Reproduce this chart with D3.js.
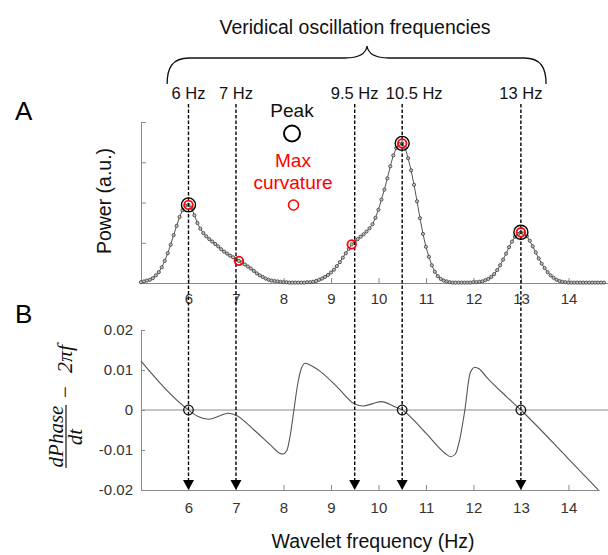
<!DOCTYPE html>
<html>
<head>
<meta charset="utf-8">
<script src="https://cdn.jsdelivr.net/npm/d3@7"></script>
<style>
  body { margin: 0; background: #fff; }
  svg text { font-family: "Liberation Sans", Arial, Helvetica, sans-serif; }
  .axis path, .axis line { stroke: #8a8a8a; }
  .axis text { fill: #333; font-size: 15px; }
</style>
</head>
<body>
<div class="chart"></div>
<script>
// panel A: power spectrum, sampled every 1/16 Hz from 5 Hz
const powerStart = 5;
const powerStep = 1 / 16;
const powerValues = [
  0.02, 0.04, 0.06, 0.08, 0.12, 0.19, 0.27, 0.39, 0.55, 0.74, 0.95, 1.19, 1.42, 1.64, 1.81, 1.92,
  1.94, 1.87, 1.68, 1.49, 1.35, 1.24, 1.16, 1.09, 1.03, 0.97, 0.91, 0.84, 0.78, 0.73, 0.68, 0.64,
  0.59, 0.55, 0.51, 0.46, 0.41, 0.36, 0.30, 0.24, 0.19, 0.15, 0.11, 0.08, 0.06, 0.05, 0.04, 0.03,
  0.02, 0.02, 0.01, 0.01, 0.01, 0.01, 0.01, 0.01, 0.02, 0.02, 0.03, 0.05, 0.08, 0.11, 0.15, 0.20,
  0.26, 0.33, 0.42, 0.52, 0.63, 0.74, 0.85, 0.96, 1.03, 1.09, 1.15, 1.21, 1.28, 1.36, 1.46, 1.62,
  1.82, 2.07, 2.32, 2.60, 2.90, 3.17, 3.35, 3.45, 3.47, 3.36, 3.10, 2.80, 2.44, 2.03, 1.61, 1.22,
  0.90, 0.65, 0.44, 0.28, 0.17, 0.10, 0.06, 0.04, 0.02, 0.01, 0.01, 0.01, 0.01, 0.01, 0.01, 0.01,
  0.02, 0.02, 0.03, 0.04, 0.07, 0.10, 0.15, 0.22, 0.32, 0.44, 0.58, 0.73, 0.89, 1.03, 1.15, 1.22,
  1.26, 1.23, 1.16, 1.05, 0.91, 0.76, 0.61, 0.48, 0.37, 0.27, 0.19, 0.13, 0.08, 0.05, 0.03, 0.02,
  0.01, 0.01, 0.01, 0.01, 0.01, 0.01, 0.01, 0.01, 0.01, 0.01, 0.01, 0.01, 0.01
];
const peakFreqs = [6, 10.5, 13];
const curvatureFreqs = [6, 7.0625, 9.4375, 10.5, 13];

// panel B: dPhase/dt - 2*pi*f
const phaseFreqs = [5.0, 6.0, 6.2, 6.43, 6.65, 6.83, 7.0, 7.38, 7.73, 7.92, 7.99, 8.07, 8.15, 8.22, 8.3,
  8.38, 8.46, 8.55, 8.78, 9.13, 9.5, 9.68, 9.88, 10.07, 10.31, 10.5, 11.0, 11.4, 11.52, 11.62, 11.7,
  11.82, 11.93, 12.03, 12.12, 12.27, 12.7, 13.0, 14.0, 14.63];
const phaseValues = [0.0122, 0.0, -0.0016, -0.0023, -0.0015, -0.0008, -0.0013, -0.005, -0.0088, -0.0108,
  -0.011, -0.0102, -0.0058, 0.0, 0.0065, 0.0105, 0.0117, 0.0113, 0.0096, 0.0058, 0.0015, 0.001, 0.0016,
  0.0021, 0.001, 0.0, -0.0058, -0.0108, -0.0117, -0.011, -0.008, 0.0, 0.0092, 0.0107, 0.0103, 0.0083,
  0.0033, 0.0, -0.0122, -0.02];
const zeroCrossFreqs = [6, 10.5, 13];

// veridical frequencies + labels
const veridicalFreqs = [6, 7, 9.5, 10.5, 13];
const veridicalLabels = ['6 Hz', '7 Hz', '9.5 Hz', '10.5 Hz', '13 Hz'];

const xTicks = [6, 7, 8, 9, 10, 11, 12, 13, 14];
const powerTicks = [0, 1, 2, 3, 4];
const phaseTicks = [0.02, 0.01, 0, -0.01, -0.02];
const phaseTickLabels = ['0.02', '0.01', '0', '-0.01', '-0.02'];

const powerData = powerValues.map((v, i) => ({ f: powerStart + i * powerStep, v: v }));
const phaseData = phaseFreqs.map((f, i) => ({ f: f, v: phaseValues[i] }));
const powerAt = f => powerData.find(d => Math.abs(d.f - f) < 1e-6).v;

const svg = d3.select(".chart")
  .append("svg")
    .attr("width", 608)
    .attr("height", 555);

//SCALES
const xScale = d3.scaleLinear().domain([5, 14.75]).range([141, 604]);
const xScaleA = d3.scaleLinear().domain([5, 14.83]).range([141, 608]);
const xScaleB = d3.scaleLinear().domain([5, 14.65]).range([141, 599.3]);
const yPower = d3.scaleLinear().domain([0, 4]).range([283, 122]);
const yPhase = d3.scaleLinear().domain([-0.02, 0.02]).range([490, 330]);

// title + brace
svg.append('text')
  .attr('x', 355)
  .attr('y', 34)
  .attr('text-anchor', 'middle')
  .style('font-size', '19.5px')
  .style('fill', '#111')
  .text('Veridical oscillation frequencies');

const bl = xScale(5.55), br = xScale(13.53), bt = xScale(9.76);
svg.append('path')
  .attr('d', `M${bl},84 C${bl},68 ${bl + 5},58 ${bl + 22},58 L${bt - 22},58 C${bt - 8},58 ${bt - 1},53 ${bt},46 ` +
             `C${bt + 1},53 ${bt + 8},58 ${bt + 22},58 L${br - 22},58 C${br - 5},58 ${br},68 ${br},84`)
  .style('fill', 'none')
  .style('stroke', '#111')
  .style('stroke-width', 1.3);

// 10.5 Hz label is nudged right so it clears 9.5 Hz
svg.selectAll('.freq-label')
  .data(veridicalFreqs)
  .enter().append('text')
    .attr('class', 'freq-label')
    .attr('x', d => xScale(d) + (d === 10.5 ? 12 : 0))
    .attr('y', 99)
    .attr('text-anchor', 'middle')
    .style('font-size', '16.5px')
    .style('fill', '#111')
    .text((d, i) => veridicalLabels[i]);

// panel letters
svg.append('text').attr('x', 15).attr('y', 120).style('font-size', '26px').text('A');
svg.append('text').attr('x', 15).attr('y', 323).style('font-size', '26px').text('B');

//PANEL A axes
svg.append('g')
  .attr('class', 'axis')
  .attr('transform', 'translate(0,283)')
  .call(d3.axisBottom(xScaleA).tickValues(xTicks).tickSizeInner(-5).tickSizeOuter(0).tickPadding(10.5));
svg.append('g')
  .attr('class', 'axis')
  .attr('transform', 'translate(141,0)')
  .call(d3.axisLeft(yPower).tickValues(powerTicks).tickSizeInner(-5).tickSizeOuter(0).tickFormat(''));

svg.append('text')
  .attr('transform', 'translate(111,201) rotate(-90)')
  .attr('text-anchor', 'middle')
  .style('font-size', '19.5px')
  .style('fill', '#111')
  .text('Power (a.u.)');

// power line + markers
const powerLine = d3.line()
  .x(d => xScale(d.f))
  .y(d => yPower(d.v));
svg.append('path')
  .attr('d', powerLine(powerData))
  .style('fill', 'none')
  .style('stroke', '#555')
  .style('stroke-width', 1);
svg.selectAll('.power-dot')
  .data(powerData)
  .enter().append('circle')
    .attr('class', 'power-dot')
    .attr('cx', d => xScale(d.f))
    .attr('cy', d => yPower(d.v))
    .attr('r', 1.6)
    .style('fill', '#c0c0c0')
    .style('stroke', '#3a3a3a')
    .style('stroke-width', 0.8);

//PANEL B axes
svg.append('line')
  .attr('x1', 141).attr('x2', 608)
  .attr('y1', yPhase(0)).attr('y2', yPhase(0))
  .style('stroke', '#8a8a8a')
  .style('stroke-width', 1);

svg.append('g')
  .attr('class', 'axis')
  .attr('transform', 'translate(0,490)')
  .call(d3.axisBottom(xScaleB).tickValues(xTicks).tickSizeInner(-5).tickSizeOuter(0).tickPadding(12.5));
svg.append('g')
  .attr('class', 'axis')
  .attr('transform', 'translate(141,0)')
  .call(d3.axisLeft(yPhase).tickValues(phaseTicks).tickSizeInner(-4).tickSizeOuter(0).tickPadding(8)
    .tickFormat((d, i) => phaseTickLabels[i]));

const phaseLine = d3.line()
  .curve(d3.curveMonotoneX)
  .x(d => xScale(d.f))
  .y(d => yPhase(d.v));
svg.append('path')
  .attr('d', phaseLine(phaseData))
  .style('fill', 'none')
  .style('stroke', '#555')
  .style('stroke-width', 1.1);

// y label for B: dPhase/dt - 2πf
const mathLabel = svg.append('g')
  .attr('transform', 'translate(66,402) rotate(-90)')
  .style('font-style', 'italic')
  .style('fill', '#111');
mathLabel.append('text')
  .attr('x', -34.5).attr('y', -3.5)
  .attr('text-anchor', 'middle')
  .style('font-family', '"Liberation Serif", serif')
  .style('font-size', '21px')
  .text('dPhase');
mathLabel.append('line')
  .attr('x1', -66).attr('x2', -3)
  .attr('y1', 0).attr('y2', 0)
  .style('stroke', '#111')
  .style('stroke-width', 1.2);
mathLabel.append('text')
  .attr('x', -35).attr('y', 16)
  .attr('text-anchor', 'middle')
  .style('font-family', '"Liberation Serif", serif')
  .style('font-size', '21px')
  .text('dt');
mathLabel.append('text')
  .attr('x', 10).attr('y', 6)
  .attr('text-anchor', 'middle')
  .style('font-family', '"Liberation Serif", serif')
  .style('font-style', 'normal')
  .style('font-size', '21px')
  .text('−');
mathLabel.append('text')
  .attr('x', 43).attr('y', 6)
  .attr('text-anchor', 'middle')
  .style('font-family', '"Liberation Serif", serif')
  .style('font-size', '22px')
  .text('2πf');

svg.append('text')
  .attr('x', 373)
  .attr('y', 548)
  .attr('text-anchor', 'middle')
  .style('font-size', '19.5px')
  .style('fill', '#111')
  .text('Wavelet frequency (Hz)');

// dashed verticals with arrowheads
svg.selectAll('.veridical-line')
  .data(veridicalFreqs)
  .enter().append('line')
    .attr('class', 'veridical-line')
    .attr('x1', d => xScale(d)).attr('x2', d => xScale(d))
    .attr('y1', 104).attr('y2', yPhase(-0.02) - 9)
    .style('stroke', '#000')
    .style('stroke-width', 1.4)
    .style('stroke-dasharray', '3.5,2');
svg.selectAll('.arrow-head')
  .data(veridicalFreqs)
  .enter().append('path')
    .attr('class', 'arrow-head')
    .attr('d', d => {
      const x = xScale(d), y = yPhase(-0.02);
      return `M${x - 5.5},${y - 10} L${x + 5.5},${y - 10} L${x},${y} Z`;
    })
    .style('fill', '#000');

// zero crossing markers (B)
svg.selectAll('.zero-dot')
  .data(zeroCrossFreqs)
  .enter().append('circle')
    .attr('class', 'zero-dot')
    .attr('cx', d => xScale(d))
    .attr('cy', yPhase(0))
    .attr('r', 4.8)
    .style('fill', 'none')
    .style('stroke', '#111')
    .style('stroke-width', 1.3);

// peak + max curvature markers (A)
svg.selectAll('.peak-dot')
  .data(peakFreqs)
  .enter().append('circle')
    .attr('class', 'peak-dot')
    .attr('cx', d => xScale(d))
    .attr('cy', d => yPower(powerAt(d)))
    .attr('r', 7)
    .style('fill', 'none')
    .style('stroke', '#000')
    .style('stroke-width', 1.4);
svg.selectAll('.curv-dot')
  .data(curvatureFreqs)
  .enter().append('circle')
    .attr('class', 'curv-dot')
    .attr('cx', d => xScale(d))
    .attr('cy', d => yPower(powerAt(d)))
    .attr('r', 4.3)
    .style('fill', 'none')
    .style('stroke', '#ff0000')
    .style('stroke-width', 1.8);

// legend
svg.append('text')
  .attr('x', 292).attr('y', 117)
  .attr('text-anchor', 'middle')
  .style('font-size', '19px')
  .style('fill', '#111')
  .text('Peak');
svg.append('circle')
  .attr('cx', 292).attr('cy', 133.5).attr('r', 8)
  .style('fill', 'none')
  .style('stroke', '#000')
  .style('stroke-width', 2);
svg.append('text')
  .attr('x', 293).attr('y', 167)
  .attr('text-anchor', 'middle')
  .style('font-size', '19px')
  .style('fill', '#ff0000')
  .text('Max');
svg.append('text')
  .attr('x', 293).attr('y', 189)
  .attr('text-anchor', 'middle')
  .style('font-size', '19px')
  .style('fill', '#ff0000')
  .text('curvature');
svg.append('circle')
  .attr('cx', 293.5).attr('cy', 205).attr('r', 5)
  .style('fill', 'none')
  .style('stroke', '#ff0000')
  .style('stroke-width', 1.6);
</script>
</body>
</html>
